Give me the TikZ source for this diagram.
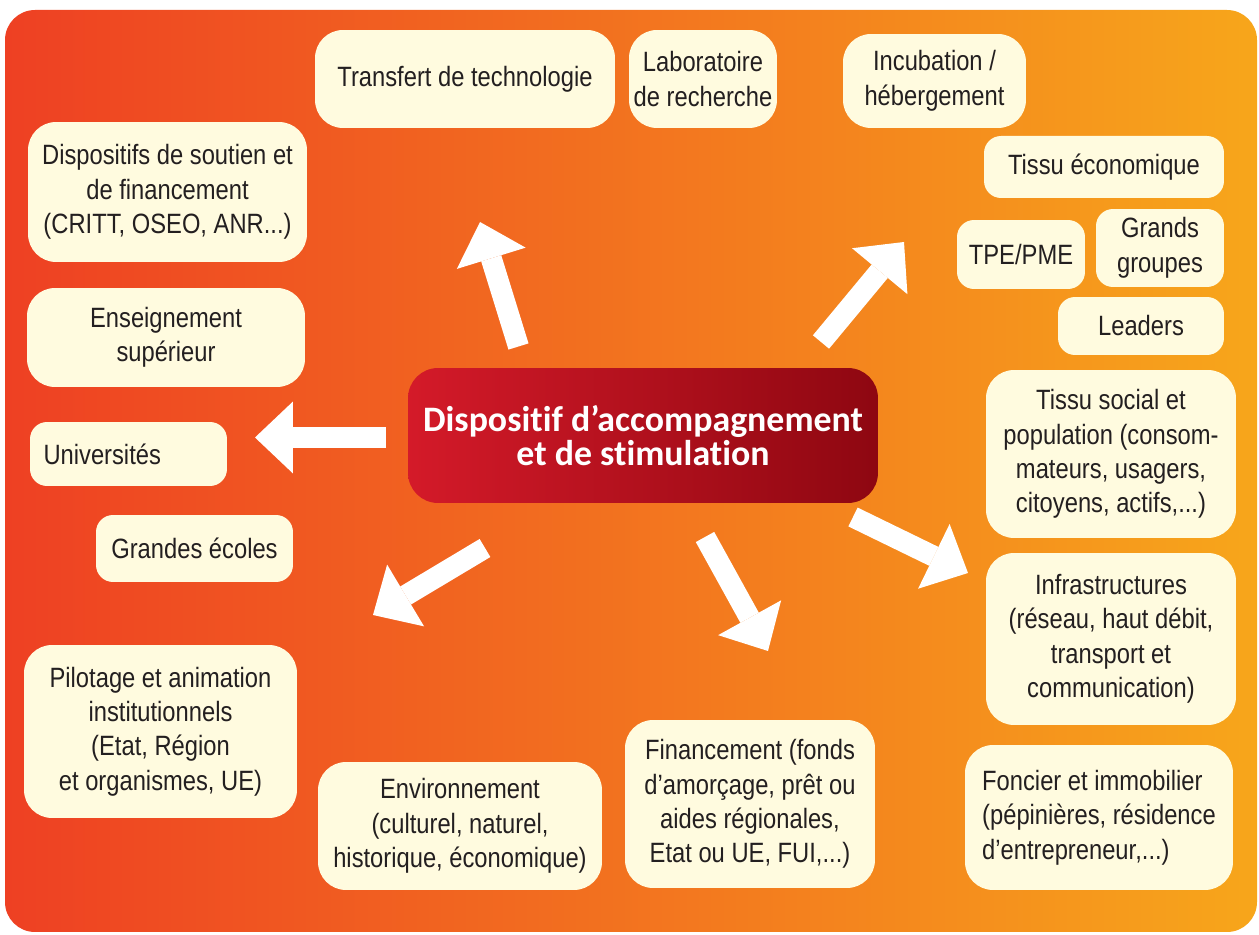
\documentclass[tikz,border=0pt]{standalone}
\usepackage{fontspec}
\setmainfont{Liberation Sans}[FakeStretch=0.85]
\newfontfamily\hubfont{Carlito}[Ligatures=NoCommon, Contextuals=NoAlternate]
\usepackage{tikz}
\usetikzlibrary{arrows.meta, positioning}

\definecolor{bgleft}{HTML}{EE4023}
\definecolor{bgright}{HTML}{F7A61B}
\definecolor{cream}{HTML}{FFFBDF}
\definecolor{ink}{HTML}{231F20}
\definecolor{hubleft}{HTML}{D41A29}
\definecolor{hubright}{HTML}{8E0711}

\begin{document}
\begin{tikzpicture}[
    x=0.02cm, y=-0.02cm,
    box/.style={rectangle, rounded corners=0.56cm, fill=cream, text=ink, align=center, inner sep=2pt,
        font=\fontsize{15.9pt}{19.6pt}\selectfont},
    smallbox/.style={box, rounded corners=0.34cm},
    hub/.style={rectangle, rounded corners=0.6cm, left color=hubleft, right color=hubright, text=white,
        align=center, minimum width=9.4cm, minimum height=2.7cm,
        font=\hubfont\bfseries\fontsize{20.4pt}{19.8pt}\selectfont},
    bigarrow/.style={draw=white, line width=0.42cm, -{Triangle[length=0.76cm, width=1.44cm, line width=0pt]}}
]

\useasboundingbox (0,0) rectangle (1259,935);
\shade[left color=bgleft, right color=bgright, rounded corners=0.6cm] (5,10) rectangle (1257,932);

\node[hub] (hub) at (643,435.5) {Dispositif d’accompagnement\\et de stimulation};

\node[box, minimum width=6cm, minimum height=1.96cm] (transfert) at (465,79) {Transfert de technologie};
\node[box, minimum width=2.96cm, minimum height=1.96cm] (labo) at (703,79) {Laboratoire\\de recherche};
\node[box, minimum width=3.66cm, minimum height=1.88cm] (incub) at (934.5,81) {Incubation /\\hébergement};

\node[box, minimum width=5.58cm, minimum height=2.8cm] (soutien) at (167.5,192) {Dispositifs de soutien et\\de financement\\(CRITT, OSEO, ANR...)};
\node[box, minimum width=5.56cm, minimum height=1.98cm] (enseign) at (166,337.5) {Enseignement\\supérieur};
\node[smallbox, minimum width=3.94cm, minimum height=1.28cm, text width=3.4cm, align=left] (univ) at (128.5,454) {Universités};
\node[smallbox, minimum width=3.94cm, minimum height=1.34cm] (ecoles) at (194.5,548.5) {Grandes écoles};
\node[box, minimum width=5.46cm, minimum height=3.46cm] (pilotage) at (160.5,731.5) {Pilotage et animation\\institutionnels\\(Etat, Région\\et organismes, UE)};

\node[box, minimum width=5.68cm, minimum height=2.56cm] (environ) at (460,826) {Environnement\\(culturel, naturel,\\historique, économique)};
\node[box, minimum width=5cm, minimum height=3.36cm] (financ) at (750,804) {Financement (fonds\\d’amorçage, prêt ou\\aides régionales,\\Etat ou UE, FUI,...)};
\node[box, minimum width=5.36cm, minimum height=2.9cm, align=left] (foncier) at (1099,817.5) {Foncier et immobilier\\(pépinières, résidence\\d’entrepreneur,...)};

\node[box, minimum width=5cm, minimum height=3.44cm] (infra) at (1111,639) {Infrastructures\\(réseau, haut débit,\\transport et\\communication)};
\node[box, minimum width=5cm, minimum height=3.36cm] (social) at (1111,454) {Tissu social et\\population (consom-\\mateurs, usagers,\\citoyens, actifs,...)};

\node[smallbox, minimum width=4.8cm, minimum height=1.24cm] (tissueco) at (1104,167) {Tissu économique};
\node[smallbox, minimum width=2.56cm, minimum height=1.38cm] (tpe) at (1021,254.5) {TPE/PME};
\node[smallbox, minimum width=2.56cm, minimum height=1.56cm] (grands) at (1160,248) {Grands\\groupes};
\node[smallbox, minimum width=3.32cm, minimum height=1.16cm] (leaders) at (1141,326) {Leaders};

\coordinate (up-s) at (518.5,346.5);
\coordinate (up-e) at (480,222);
\coordinate (left-s) at (386,437.5);
\coordinate (left-e) at (255,437.5);
\coordinate (upright-s) at (821,342);
\coordinate (upright-e) at (904,242);
\coordinate (downleft-s) at (485,548);
\coordinate (downleft-e) at (373,615);
\coordinate (down-s) at (705,537);
\coordinate (down-e) at (768,651);
\coordinate (downright-s) at (853,517);
\coordinate (downright-e) at (968,573);

\draw[bigarrow] (up-s) -- (up-e);
\draw[bigarrow] (left-s) -- (left-e);
\draw[bigarrow] (upright-s) -- (upright-e);
\draw[bigarrow] (downleft-s) -- (downleft-e);
\draw[bigarrow] (down-s) -- (down-e);
\draw[bigarrow] (downright-s) -- (downright-e);

\end{tikzpicture}
\end{document}
